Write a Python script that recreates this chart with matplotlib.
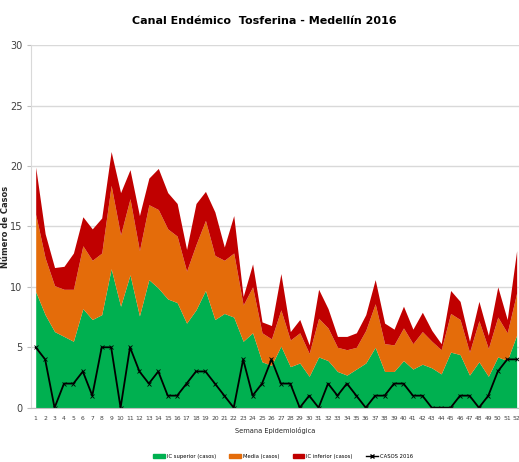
import matplotlib
matplotlib.use("Agg")
import matplotlib.pyplot as plt
from matplotlib.lines import Line2D
from matplotlib.patches import Patch
import numpy as np

# semanas epidemiologicas
semanas = np.arange(1, 53)

# bordes superiores de cada banda del canal endemico (valores acumulados)
ic_superior = [9.6, 7.7, 6.3, 5.9, 5.5, 8.2, 7.3, 7.7, 11.5, 8.4, 11.0, 7.6, 10.6,
               9.9, 9.0, 8.7, 7.0, 8.1, 9.7, 7.3, 7.8, 7.5, 5.5, 6.2, 3.8, 3.5,
               5.1, 3.4, 3.7, 2.6, 4.2, 3.9, 3.0, 2.7, 3.2, 3.7, 5.0, 3.0, 3.0,
               3.9, 3.2, 3.6, 3.3, 2.8, 4.6, 4.4, 2.7, 3.8, 2.6, 4.2, 3.9, 6.0]
media = [16.0, 12.4, 10.1, 9.8, 9.8, 13.4, 12.2, 12.8, 18.4, 14.3, 17.3, 13.0, 16.8,
         16.4, 14.8, 14.2, 11.3, 13.5, 15.5, 12.6, 12.2, 12.8, 8.5, 10.0, 6.2, 5.7,
         8.1, 5.6, 6.2, 4.5, 7.4, 6.6, 5.0, 4.8, 5.0, 6.4, 8.6, 5.3, 5.2,
         6.6, 5.3, 6.3, 5.5, 4.8, 7.8, 7.3, 4.6, 7.2, 4.9, 7.5, 6.2, 9.5]
ic_inferior = [19.9, 14.4, 11.6, 11.7, 12.8, 15.8, 14.8, 15.7, 21.2, 17.8, 19.7, 15.9, 19.0,
               19.8, 17.8, 16.9, 13.1, 16.9, 17.9, 16.2, 13.3, 15.9, 9.2, 11.9, 7.1, 6.8,
               11.1, 6.3, 7.3, 5.2, 9.8, 8.2, 5.9, 5.9, 6.2, 7.7, 10.6, 7.0, 6.5,
               8.4, 6.5, 7.9, 6.4, 5.3, 9.7, 8.8, 5.5, 8.8, 6.0, 10.0, 7.3, 13.0]
casos_2016 = [5, 4, 0, 2, 2, 3, 1, 5, 5, 0, 5, 3, 2,
              3, 1, 1, 2, 3, 3, 2, 1, 0, 4, 1, 2, 4,
              2, 2, 0, 1, 0, 2, 1, 2, 1, 0, 1, 1, 2,
              2, 1, 1, 0, 0, 0, 1, 1, 0, 1, 3, 4, 4]

verde = "#00B050"
naranja = "#E46C0A"
rojo = "#C00000"

fig = plt.figure(figsize=(5.19, 4.62), dpi=100)
ax = fig.add_axes([0.0597, 0.1175, 0.9403, 0.7847])

ax.fill_between(semanas, 0, ic_superior, color=verde, linewidth=0)
ax.fill_between(semanas, ic_superior, media, color=naranja, linewidth=0)
ax.fill_between(semanas, media, ic_inferior, color=rojo, linewidth=0)
ax.plot(semanas, casos_2016, color="black", linewidth=1.3, marker="x",
        markersize=3, markeredgewidth=0.6)

ax.set_xlim(0.5, 52.25)
ax.set_ylim(0, 30)
ax.set_yticks(range(0, 31, 5))
ax.set_xticks(semanas)
ax.set_xticklabels([str(s) for s in semanas], fontsize=4.3,
                   family="Liberation Sans Narrow", color="#404040")
ax.tick_params(axis="x", length=0, pad=6)
ax.tick_params(axis="y", length=3, color="#bfbfbf", pad=3, labelsize=7,
               labelcolor="#404040")
for lbl in ax.get_yticklabels():
    lbl.set_family("Liberation Sans Narrow")

ax.yaxis.grid(True, color="#d9d9d9", linewidth=1)
ax.set_axisbelow(True)
for s in ["top", "right"]:
    ax.spines[s].set_visible(False)
ax.spines["left"].set_color("#d9d9d9")
ax.spines["bottom"].set_color("#bfbfbf")

ax.set_ylabel("Número de Casos", fontsize=6, fontweight="bold", color="#262626")
ax.yaxis.set_label_coords(-0.042, 0.5)
ax.set_xlabel("Semana Epidemiológica", fontsize=4.8, family="Liberation Sans Narrow",
              labelpad=4, color="#262626")

fig.text(0.51, 0.955, "Canal Endémico  Tosferina - Medellín 2016", ha="center",
         va="center", fontsize=8, fontweight="bold", family="Liberation Sans Narrow")

handles = [Patch(color=verde), Patch(color=naranja), Patch(color=rojo),
           Line2D([0], [0], color="black", marker="x", markersize=2.5, linewidth=1)]
labels = ["IC superior (casos)", "Media (casos)", "IC inferior (casos)", "CASOS 2016"]
fig.legend(handles, labels, loc="center", bbox_to_anchor=(0.545, 0.012), ncol=4,
           frameon=False, handlelength=2.2, handleheight=0.9,
           columnspacing=2.5, handletextpad=0.4,
           prop={"family": "Liberation Sans Narrow", "size": 3.8})

fig.savefig("out.png", dpi=100)
